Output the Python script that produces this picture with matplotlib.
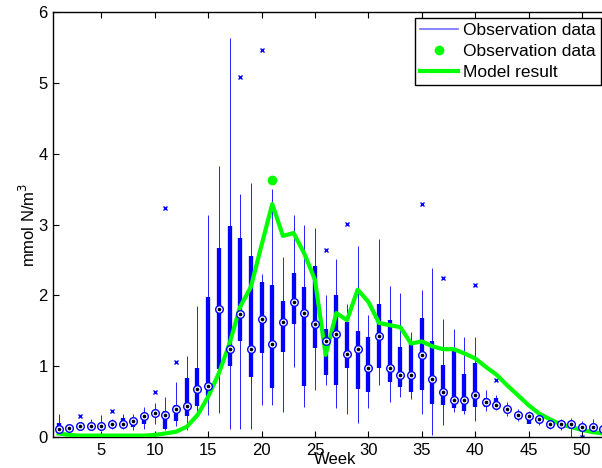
import matplotlib
matplotlib.use('Agg')
import matplotlib.pyplot as plt
from matplotlib.lines import Line2D

plt.rcParams['font.family'] = ['Liberation Sans', 'DejaVu Sans']

weeks = list(range(1, 53))
med = [0.11, 0.13, 0.155, 0.155, 0.155, 0.19, 0.19, 0.22, 0.30, 0.34,
       0.31, 0.40, 0.44, 0.68, 0.72, 1.81, 1.24, 1.74, 1.24, 1.66,
       1.32, 1.62, 1.90, 1.75, 1.60, 1.35, 1.45, 1.17, 1.24, 0.97,
       1.43, 0.97, 0.87, 0.88, 1.16, 0.82, 0.63, 0.52, 0.52, 0.60,
       0.49, 0.45, 0.40, 0.31, 0.29, 0.25, 0.18, 0.18, 0.18, 0.145,
       0.145, 0.12]
q1 = [0.06, 0.11, 0.13, 0.13, 0.13, 0.16, 0.145, 0.14, 0.19, 0.29,
      0.12, 0.22, 0.29, 0.44, 0.58, 0.96, 1.00, 1.36, 0.85, 1.19,
      0.69, 1.20, 1.60, 0.72, 1.25, 0.88, 0.73, 0.98, 0.68, 0.64,
      0.97, 0.77, 0.71, 0.64, 0.67, 0.46, 0.45, 0.41, 0.37, 0.42,
      0.42, 0.45, 0.36, 0.28, 0.19, 0.21, 0.15, 0.15, 0.14, 0.12,
      0.12, 0.10]
q3 = [0.20, 0.15, 0.18, 0.18, 0.18, 0.22, 0.27, 0.25, 0.33, 0.37,
      0.37, 0.45, 0.84, 0.98, 1.97, 2.67, 2.98, 2.81, 2.55, 2.19,
      2.15, 1.92, 2.32, 2.12, 2.42, 1.52, 2.00, 1.63, 1.50, 1.41,
      1.88, 1.65, 1.27, 1.32, 1.68, 1.35, 1.01, 1.25, 0.89, 1.05,
      0.55, 0.55, 0.43, 0.34, 0.33, 0.28, 0.21, 0.21, 0.21, 0.17,
      0.17, 0.14]
w_hi = [0.32, 0.17, 0.21, 0.25, 0.31, 0.26, 0.32, 0.33, 0.42, 0.48,
        0.57, 0.77, 1.15, 1.85, 3.13, 3.83, 5.63, 3.43, 3.59, 2.30,
        3.50, 2.54, 3.14, 3.00, 2.95, 2.00, 2.52, 1.88, 2.70, 1.72,
        2.80, 2.13, 2.04, 1.48, 2.08, 2.39, 1.67, 1.52, 1.41, 1.41,
        0.67, 0.59, 0.50, 0.40, 0.37, 0.33, 0.25, 0.25, 0.27, 0.22,
        0.25, 0.18]
w_lo = [0.04, 0.10, 0.11, 0.10, 0.10, 0.12, 0.12, 0.10, 0.12, 0.19,
        0.10, 0.15, 0.10, 0.29, 0.31, 0.34, 0.11, 0.12, 0.12, 0.45,
        0.45, 0.35, 0.99, 0.42, 0.67, 0.73, 0.41, 0.33, 0.20, 0.41,
        0.74, 0.50, 0.56, 0.54, 0.33, 0.03, 0.17, 0.35, 0.33, 0.22,
        0.37, 0.38, 0.29, 0.22, 0.20, 0.17, 0.12, 0.10, 0.00, 0.08,
        0.08, 0.06]
out_week = [3, 6, 10, 11, 12, 18, 20, 26, 28, 35, 37, 40, 42, 50]
out_val = [0.29, 0.37, 0.63, 3.23, 1.06, 5.09, 5.46, 2.64, 3.01, 3.29,
           2.25, 2.14, 0.80, 0.0]
model = [0.05, 0.03, 0.02, 0.02, 0.02, 0.02, 0.02, 0.02, 0.02, 0.03,
         0.05, 0.075, 0.145, 0.31, 0.57, 0.90, 1.32, 1.84, 2.12, 2.71,
         3.29, 2.84, 2.88, 2.59, 2.22, 1.16, 1.75, 1.65, 2.08, 1.91,
         1.61, 1.58, 1.55, 1.32, 1.35, 1.28, 1.24, 1.24, 1.18, 1.11,
         0.99, 0.88, 0.73, 0.59, 0.45, 0.33, 0.25, 0.18, 0.14, 0.10,
         0.07, 0.05]
peak_week = [21]
peak_val = [3.63]

fig = plt.figure(figsize=(6.02, 4.68), dpi=100)
ax = fig.add_axes([0.0886, 0.0662, 0.9224, 0.908])

# whiskers + boxes (compact style)
ax.vlines(weeks, w_lo, w_hi, color='blue', lw=0.6, zorder=2)
ax.vlines(weeks, q1, q3, color='blue', lw=3.1, zorder=2)
ax.plot(out_week, out_val, 'x', color='blue', ms=3, mew=1, zorder=2)

ax.plot(weeks, model, color='#00ff00', lw=3, zorder=3)
ax.plot(peak_week, peak_val, 'o', color='#00ff00', ms=6, zorder=3)

ax.plot(weeks, med, 'o', ms=5.5, mfc='white', mec='blue', mew=1, zorder=4)
ax.plot(weeks, med, 'o', ms=1.6, color='black', zorder=5)

ax.set_xlim(0.5, 52.5)
ax.set_ylim(0, 6)
ax.set_xticks(range(5, 55, 5))
ax.set_yticks(range(0, 7))
ax.tick_params(direction='in', length=4, width=0.8, top=True, right=True,
               labelsize=12, pad=4)
for s in ax.spines.values():
    s.set_linewidth(1)

ax.set_xlabel('Week', fontsize=12)
ax.xaxis.set_label_coords(0.507, -0.035)
ax.set_ylabel('mmol N/m$^3$', fontsize=12)
ax.yaxis.set_label_coords(-0.027, 0.5)

handles = [Line2D([], [], color='#7070ff', lw=1.2),
           Line2D([], [], ls='', marker='o', color='#00ff00', ms=6),
           Line2D([], [], color='#00ff00', lw=3)]
labels = ['Observation data', 'Observation data', 'Model result']
leg = ax.legend(handles, labels, loc='upper right', fontsize=12.5,
                bbox_to_anchor=(601 / 602, 1 - 18 / 468),
                bbox_transform=fig.transFigure, borderaxespad=0,
                fancybox=False, framealpha=1, edgecolor='black',
                borderpad=0.3, labelspacing=0.32, handlelength=2.2,
                handletextpad=0.3)
leg.get_frame().set_linewidth(1)

plt.savefig('out.png', dpi=100)
